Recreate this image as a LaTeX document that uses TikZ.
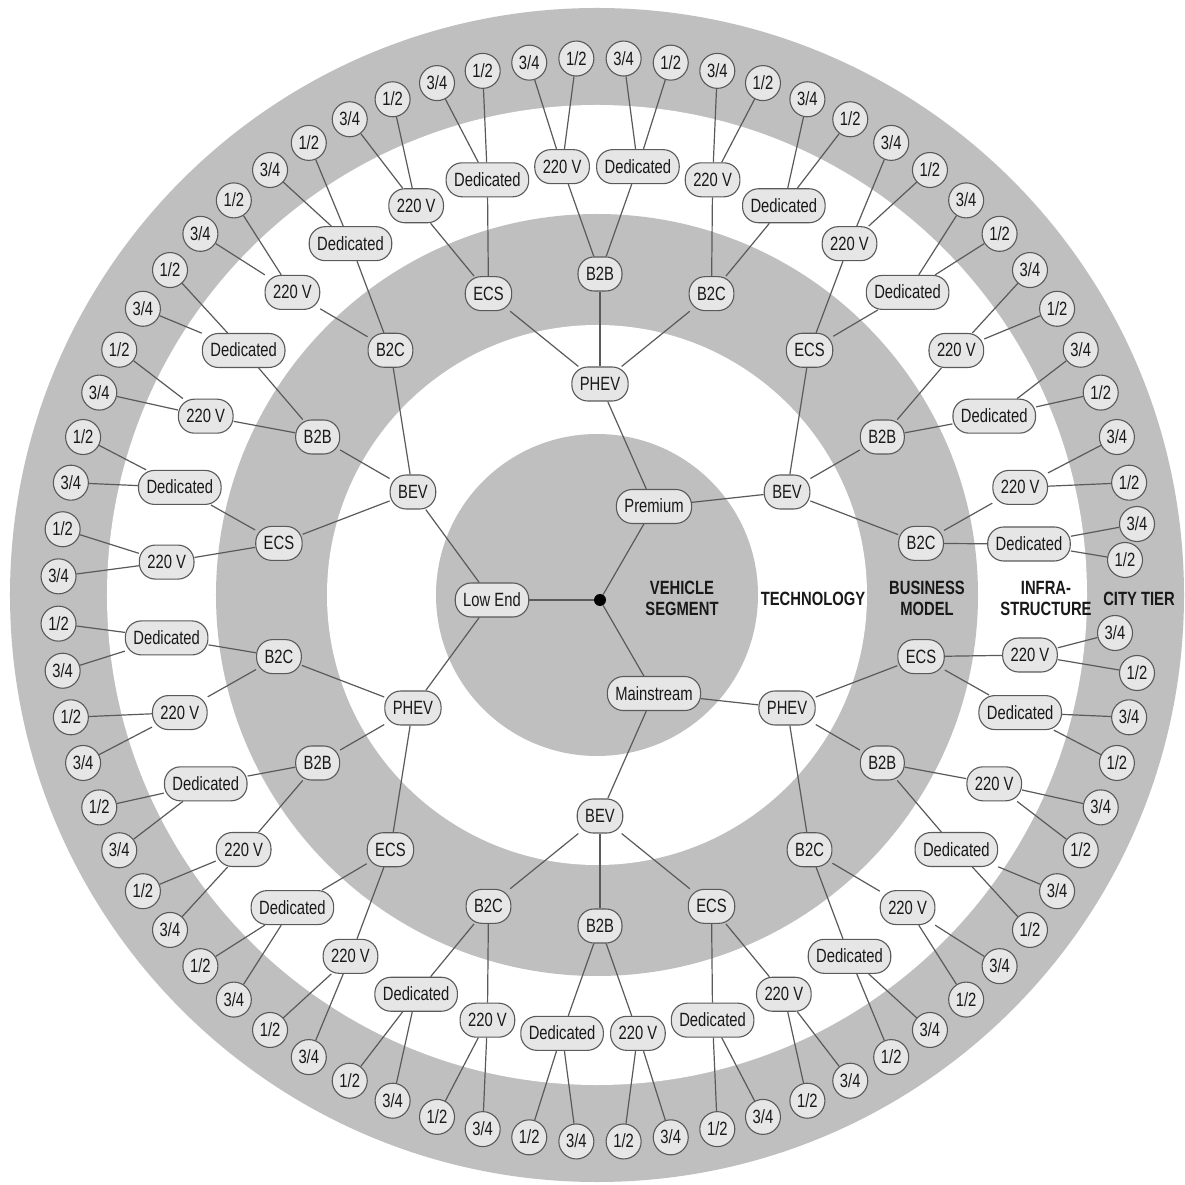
\documentclass[tikz,border=0pt]{standalone}
\usepackage{fontspec}
\setmainfont{Liberation Sans}[FakeStretch=0.77]
\definecolor{ringgray}{HTML}{BFBFBF}
\definecolor{nodefill}{HTML}{E6E6E6}
\definecolor{linec}{HTML}{5A5A5A}
\newcommand{\nodefont}{\fontsize{19.2}{20}\selectfont}
\newcommand{\lblfont}{\bfseries\fontsize{19.2}{21}\selectfont}
\begin{document}
\begin{tikzpicture}[x=1pt,y=1pt,
  pill/.style={draw=linec, fill=nodefill, line width=1.1pt, rounded corners=16pt,
    minimum height=34pt, inner xsep=8pt, inner ysep=0pt, font=\nodefont,
    text height=13.5pt, text depth=0.5pt, text=black!90},
  cnode/.style={circle, draw=linec, fill=nodefill, line width=1.1pt, minimum size=35pt,
    inner sep=0pt, font=\nodefont, text height=13.5pt, text depth=0.5pt, text=black!90},
  rootdot/.style={circle, fill=black, minimum size=12pt, inner sep=0pt},
  edge/.style={draw=linec, line width=1.2pt},
  lbl/.style={font=\lblfont, align=center, text=black!90}]

\fill[white] (-600,-585) rectangle (584,600);
\useasboundingbox (-600,-585) rectangle (584,600);

% rings
\fill[ringgray] (-3,5) circle [radius=587pt];
\fill[white]    (-3,5) circle [radius=490pt];
\fill[ringgray] (-3,5) circle [radius=381pt];
\fill[white]    (-3,5) circle [radius=270pt];
\fill[ringgray] (-3,5) circle [radius=161pt];

% level labels
\node[lbl] (lseg)  at (82,2)  {VEHICLE\\SEGMENT};
\node[lbl] (ltech) at (213,1) {TECHNOLOGY};
\node[lbl] (lbus)  at (327,2) {BUSINESS\\MODEL};
\node[lbl] (linf)  at (446,2) {INFRA-\\STRUCTURE};
\node[lbl] (lcity) at (539,1) {CITY TIER};

% nodes
\node[rootdot] (root) at (0,0) {};
\foreach \j/\lab in {0/Premium,1/Low End,2/Mainstream}
  \node[pill] (seg\j) at ({60+120*\j}:108pt) {\lab};
\foreach \k in {0,...,5}{
  \pgfmathtruncatemacro\m{mod(\k,2)}
  \node[pill] (tech\k) at ({30+60*\k}:216pt) {\ifnum\m=0 BEV\else PHEV\fi};
}
\foreach \i in {0,...,17}{
  \pgfmathtruncatemacro\m{mod(\i,3)}
  \node[pill] (bus\i) at ({10+20*\i}:326pt) {\ifcase\m B2C\or B2B\or ECS\fi};
}
% infrastructure (the two next to the level labels are pushed aside)
\node[pill] (inf0) at (429,56) {Dedicated};
\foreach \n in {1,...,34}{
  \pgfmathtruncatemacro\m{mod(\n,2)}
  \node[pill] (inf\n) at ({5+10*\n}:435pt) {\ifnum\m=0 Dedicated\else 220 V\fi};
}
\node[pill] (inf35) at (430,-55) {220 V};
% city tier
\node[cnode] (city0) at (525,40) {1/2};
\node[cnode] (city1) at (537,76) {3/4};
\foreach \c in {2,...,69}{
  \pgfmathtruncatemacro\m{mod(\c,2)}
  \node[cnode] (city\c) at ({2.5+5*\c}:542pt) {\ifnum\m=0 1/2\else 3/4\fi};
}
\node[cnode] (city70) at (537,-73) {1/2};
\node[cnode] (city71) at (515,-33) {3/4};

% connectors
\foreach \j in {0,1,2} \draw[edge] (root) -- (seg\j);
\foreach \k in {0,...,5}{
  \pgfmathtruncatemacro\p{floor(\k/2)}
  \draw[edge] (seg\p) -- (tech\k);
}
\foreach \i in {0,...,17}{
  \pgfmathtruncatemacro\p{floor(\i/3)}
  \draw[edge] (tech\p) -- (bus\i);
}
\foreach \n in {0,...,35}{
  \pgfmathtruncatemacro\p{floor(\n/2)}
  \draw[edge] (bus\p) -- (inf\n);
}
\foreach \c in {0,...,71}{
  \pgfmathtruncatemacro\p{floor(\c/2)}
  \draw[edge] (inf\p) -- (city\c);
}
\end{tikzpicture}
\end{document}
